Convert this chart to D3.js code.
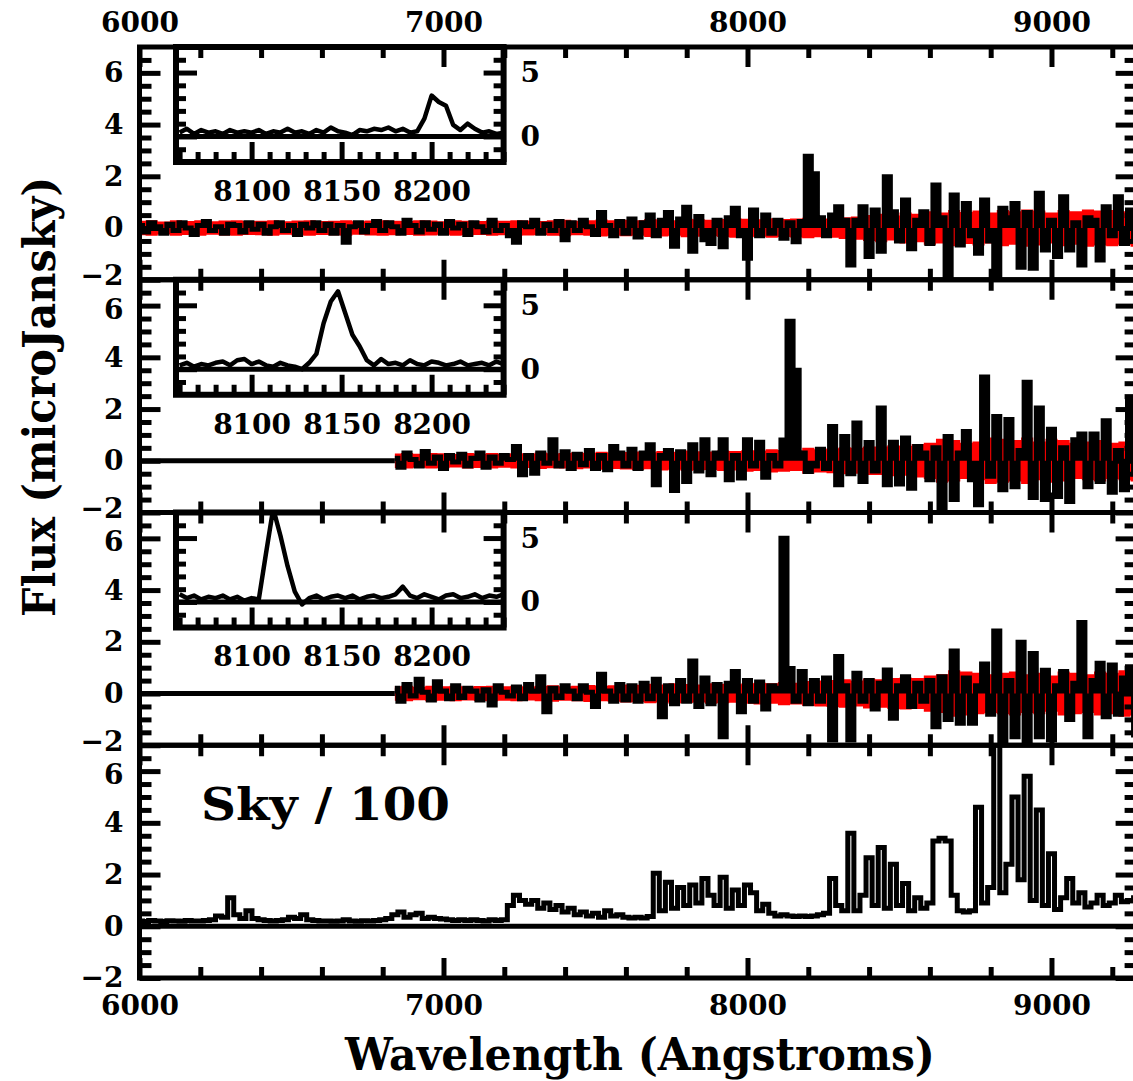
<!DOCTYPE html>
<html><head><meta charset="utf-8">
<script src="https://cdn.jsdelivr.net/npm/d3@7"></script>
<style>
body{margin:0;background:#fff}
svg{display:block}
</style>
</head><body>
<svg id="c" width="1133" height="1081"></svg>
<script>
// ---------------- DATA ----------------
// Main spectra sampled every 20 Angstrom; error (1 sigma) every 40 Angstrom.
const fluxStep = 20, errStep = 40, insetStep = 4;

// Panel 1 object, starts at 6000 A
const fluxA = [
 0.1,-0.15,0.2,0.05,-0.2,0.15,-0.1,0.2,0.0,-0.25,
 0.1,0.25,-0.1,0.05,-0.2,0.15,0.1,-0.15,0.2,-0.05,
 0.15,-0.2,0.05,0.2,-0.1,0.1,-0.25,0.15,0.0,0.2,
 -0.1,0.15,-0.2,0.1,-0.55,0.05,0.2,-0.15,0.1,0.25,
 -0.1,0.2,0.05,-0.2,0.3,0.1,-0.15,0.2,-0.05,0.15,
 -0.2,0.25,0.0,0.15,-0.25,0.2,0.05,-0.15,0.3,-0.1,
 0.1,-0.3,-0.55,0.2,0.05,0.3,-0.2,0.15,-0.1,0.25,
 -0.45,0.2,-0.1,0.3,0.05,-0.25,0.6,0.1,-0.3,0.25,
 -0.2,0.35,-0.35,0.2,0.5,-0.3,0.3,0.6,-0.7,0.35,
 0.8,-0.9,0.45,-0.45,-0.6,0.3,-0.72,0.4,0.76,-0.3,
 -1.17,0.7,-0.3,0.5,-0.2,0.3,-0.4,0.2,-0.53,0.25,
 2.78,2.1,0.4,-0.3,0.5,0.82,0.3,-1.43,0.3,0.82,
 -1.1,0.7,-0.9,1.98,0.63,-0.5,1.08,-0.8,0.3,0.63,
 -0.6,1.66,0.4,-1.95,1.28,-0.66,0.95,-0.3,-0.98,1.08,
 -0.5,-1.95,0.76,0.4,0.95,-1.52,0.6,-1.56,1.34,-0.85,
 0.3,-1.1,1.21,-0.85,0.2,-1.43,0.4,0.3,-1.24,0.82,
 -0.3,1.21,-0.6,0.7,-0.33
];
const errA = [
 0.28,0.3,0.25,0.3,0.27,0.3,0.26,0.29,0.3,0.27,
 0.28,0.3,0.26,0.29,0.3,0.27,0.28,0.3,0.26,0.29,
 0.3,0.28,0.27,0.3,0.29,0.26,0.3,0.28,0.27,0.3,
 0.28,0.3,0.29,0.27,0.3,0.32,0.28,0.3,0.33,0.3,
 0.32,0.3,0.35,0.33,0.3,0.36,0.34,0.32,0.35,0.38,
 0.36,0.34,0.38,0.35,0.37,0.4,0.36,0.38,0.42,0.45,
 0.5,0.55,0.48,0.6,0.55,0.65,0.6,0.7,0.62,0.68,
 0.6,0.7,0.65,0.72,0.68,0.6,0.7,0.65,0.72,0.68,
 0.7,0.65,0.72
];

// Panel 2 object, starts at 6840 A
const fluxB = [
 0.1,-0.25,0.3,0.05,-0.2,0.36,-0.1,0.15,-0.3,0.2,
 -0.05,0.25,-0.2,0.1,0.3,-0.25,0.15,-0.1,0.2,0.05,
 0.55,-0.54,0.2,-0.48,0.3,-0.1,0.81,-0.2,0.35,-0.3,
 0.25,-0.15,0.4,-0.3,0.2,-0.35,0.55,0.3,-0.2,0.45,
 -0.3,0.3,0.62,-0.93,0.2,0.4,-1.15,0.35,-0.8,0.62,
 -0.4,0.81,-0.54,0.3,0.81,-0.73,0.2,-0.67,0.81,-0.2,
 0.72,-0.64,0.2,-0.2,0.8,5.4,3.5,0.3,-0.41,-0.2,
 0.45,-0.3,1.33,-0.93,0.94,-0.5,1.46,-0.8,0.71,-0.4,
 2.04,-0.93,0.72,-0.9,0.88,-1.06,0.55,0.3,-0.73,0.5,
 -1.9,0.94,-1.5,0.3,1.13,-0.73,-1.7,3.24,-0.6,1.71,
 -1.12,1.6,-1.0,0.4,3.04,-1.42,2.04,-1.5,1.22,-1.38,
 0.5,-1.57,0.81,1.04,-1.0,1.04,-0.8,1.55,-1.22,0.4,
 -1.12,2.36,-0.5
];
const errB = [
 0.28,0.3,0.27,0.3,0.29,0.26,0.3,0.28,0.3,0.27,
 0.3,0.28,0.32,0.29,0.3,0.33,0.3,0.35,0.32,0.34,
 0.36,0.33,0.38,0.35,0.4,0.37,0.36,0.4,0.38,0.42,
 0.4,0.45,0.42,0.4,0.5,0.45,0.48,0.52,0.5,0.55,
 0.55,0.6,0.58,0.65,0.7,0.85,0.8,0.7,0.75,0.9,
 0.85,0.8,0.9,0.75,0.85,0.8,0.7,0.75,0.8,0.7,
 0.75,0.8
];

// Panel 3 object, starts at 6840 A
const fluxC = [
 0.2,-0.3,0.35,-0.1,0.55,0.05,-0.25,0.46,0.1,-0.2,
 0.3,-0.15,0.2,0.1,-0.25,0.15,-0.44,0.3,0.05,-0.1,
 0.25,-0.2,0.35,0.1,0.65,-0.7,0.2,-0.15,0.3,0.1,
 -0.2,0.3,0.05,-0.5,0.75,0.1,-0.3,0.35,-0.25,0.3,
 -0.3,0.4,-0.2,0.55,-0.9,0.3,-0.4,0.5,-0.3,1.26,
 -0.5,0.6,-0.4,0.35,-1.67,0.4,0.85,-0.7,0.5,-0.3,
 0.45,-0.6,0.3,0.2,6.0,0.97,-0.3,0.85,-0.4,0.5,
 -0.3,0.6,-1.8,1.43,0.3,-1.8,0.78,-0.3,0.5,-0.6,
 0.4,0.91,-0.96,0.3,0.65,-0.5,0.4,-0.3,0.5,-1.28,
 0.65,-1.0,1.64,-1.15,0.6,-1.15,0.3,1.14,-0.8,2.42,
 -1.86,0.5,-1.67,1.98,-1.86,1.55,-1.67,0.9,-1.8,0.3,
 0.85,-1.0,0.4,2.75,-1.67,0.5,1.17,-0.9,1.1,-0.8,
 0.6,1.04,-1.6
];
const errC = [
 0.28,0.3,0.26,0.3,0.28,0.3,0.27,0.29,0.3,0.28,
 0.3,0.27,0.3,0.32,0.28,0.3,0.33,0.3,0.32,0.35,
 0.34,0.38,0.35,0.4,0.37,0.35,0.4,0.38,0.36,0.4,
 0.42,0.4,0.45,0.42,0.48,0.5,0.52,0.55,0.5,0.58,
 0.55,0.6,0.62,0.6,0.7,0.75,0.9,0.85,0.8,0.75,
 0.8,0.85,0.75,0.8,0.7,0.85,0.8,0.75,0.85,0.8,
 0.9,0.85
];

// Panel 4 sky spectrum / 100, starts at 6000 A
const skyFlux = [
 0.2,0.18,0.22,0.2,0.18,0.21,0.2,0.19,0.22,0.2,
 0.2,0.22,0.25,0.4,0.35,1.1,0.45,0.3,0.6,0.3,
 0.25,0.22,0.2,0.22,0.25,0.35,0.3,0.45,0.25,0.22,
 0.2,0.2,0.19,0.2,0.25,0.2,0.19,0.21,0.2,0.22,
 0.25,0.3,0.45,0.55,0.35,0.45,0.5,0.3,0.35,0.3,
 0.28,0.25,0.22,0.25,0.22,0.25,0.22,0.2,0.25,0.22,
 0.25,0.8,1.2,1.0,0.85,1.0,0.7,0.9,0.65,0.8,
 0.55,0.7,0.45,0.55,0.4,0.5,0.35,0.6,0.4,0.45,
 0.35,0.32,0.35,0.32,0.38,2.05,0.6,1.7,0.7,1.5,
 0.8,1.6,0.9,1.85,1.2,0.8,1.9,0.7,1.4,0.8,
 1.6,1.3,0.6,0.85,0.5,0.4,0.45,0.4,0.38,0.4,
 0.38,0.4,0.45,0.5,1.85,0.8,0.6,3.6,0.6,1.2,
 2.65,0.8,3.05,0.7,2.4,0.8,1.65,0.6,1.1,0.7,
 0.9,3.3,3.4,3.3,1.2,0.6,0.55,0.6,4.6,0.9,
 1.5,7.5,1.3,2.4,5.0,1.8,5.8,1.0,4.5,0.8,
 2.8,0.65,1.1,1.85,0.9,1.3,0.75,0.9,1.2,0.8,
 0.9,1.2,0.95,1.0,1.1
];

// Insets (zoom on the line), sampled every 4 A from 8060 A
const insetA = [
 0.3,0.6,0.2,0.5,0.3,0.4,0.2,0.5,0.3,0.4,
 0.3,0.5,0.2,0.4,0.3,0.6,0.3,0.4,0.2,0.5,
 0.3,0.7,0.4,0.3,0.1,0.5,0.4,0.6,0.5,0.7,
 0.4,0.6,0.3,0.4,1.4,3.2,2.7,2.4,0.9,0.5,
 1.0,0.6,0.3,0.4,0.2,0.3
];
const insetB = [
 0.3,0.5,0.2,0.4,0.3,0.5,0.6,0.3,0.7,0.8,
 0.4,0.6,0.3,0.2,0.5,0.3,0.2,0.0,0.5,1.2,
 3.6,5.3,6.1,4.4,2.7,1.8,0.7,0.3,0.8,0.4,
 0.5,0.3,0.7,0.4,0.3,0.6,0.5,0.3,0.4,0.6,
 0.3,0.4,0.5,0.3,0.6,0.4
];
const insetC = [
 0.6,0.3,0.5,0.2,0.4,0.3,0.5,0.2,0.4,0.1,
 0.3,0.2,3.8,7.3,5.2,2.8,0.8,-0.2,0.3,0.5,
 0.2,0.4,0.5,0.3,0.5,0.2,0.4,0.5,0.3,0.4,
 0.6,1.2,0.5,0.3,0.6,0.4,0.2,0.5,0.6,0.3,
 0.4,0.6,0.3,0.5,0.4,0.6
];

// Axis ticks and labels
const xDomain = [6000, 9280];
const xMajorTicks = [6000, 7000, 8000, 9000];
const yDomain = [-2, 7];
const yMajorTicks = [-2, 0, 2, 4, 6];
const insetXDomain = [8058, 8240];
const insetXMajor = [8100, 8150, 8200];
const insetYMajor = [0, 5];
const xTitle = "Wavelength (Angstroms)";
const yTitle = "Flux (microJansky)";
const skyLabel = "Sky / 100";

// ---------------- DRAW ----------------
const FONT = "DejaVu Serif";
const svg = d3.select("#c");
const L = 139.5, R = 1136.6, T0 = 47, PH = 232.75, IW0 = 176, IW1 = 503.6, IH = 115;
const x = d3.scaleLinear().domain(xDomain).range([L, R]);
const xMinor = d3.range(6200, 9281, 200).filter(v => v % 1000 !== 0);
const yMinor = d3.range(-1.5, 7, 0.5).filter(v => v % 2 !== 0);

const series = (vals, start, step) => vals.map((v, i) => ({w: start + i * step, v}));

const panels = [
  {flux: series(fluxA, 6000, fluxStep), err: series(errA, 6000, errStep), inset: series(insetA, 8060, insetStep)},
  {flux: series(fluxB, 6840, fluxStep), err: series(errB, 6840, errStep), inset: series(insetB, 8060, insetStep), zeroSeg: true},
  {flux: series(fluxC, 6840, fluxStep), err: series(errC, 6840, errStep), inset: series(insetC, 8060, insetStep), zeroSeg: true},
  {flux: series(skyFlux, 6000, fluxStep), zeroFull: true, label: skyLabel}
];

const defs = svg.append("defs");

function styleAxis(g, sw, fs) {
  g.select(".domain").remove();
  g.attr("font-family", FONT).attr("font-weight", "bold").attr("font-size", fs || 28);
  g.selectAll(".tick line").attr("stroke", "#000").attr("stroke-width", sw).attr("stroke-linecap", "butt");
  g.selectAll(".tick text").attr("fill", "#000");
  return g;
}

const content = svg.append("g");
const insetLayer = svg.append("g");
const axesLayer = svg.append("g");

panels.forEach((p, i) => {
  const top = T0 + i * PH, bot = top + PH;
  const y = d3.scaleLinear().domain(yDomain).range([bot, top]);
  const cid = "clip" + i;
  defs.append("clipPath").attr("id", cid).append("rect")
    .attr("x", L).attr("y", top).attr("width", R - L).attr("height", PH);
  const g = content.append("g").attr("clip-path", `url(#${cid})`);

  if (p.err) {
    const area = d3.area().curve(d3.curveStep)
      .x(d => x(d.w)).y0(d => y(-d.v)).y1(d => y(d.v));
    g.append("path").datum(p.err).attr("d", area).attr("fill", "#ff0000");
  }
  if (p.zeroSeg) {
    g.append("line").attr("x1", x(6000)).attr("x2", x(p.flux[0].w))
      .attr("y1", y(0)).attr("y2", y(0)).attr("stroke", "#000").attr("stroke-width", 5);
  }
  if (p.zeroFull) {
    g.append("line").attr("x1", x(xDomain[0])).attr("x2", x(xDomain[1]))
      .attr("y1", y(0)).attr("y2", y(0)).attr("stroke", "#000").attr("stroke-width", 5);
  }
  if (!p.zeroFull) {
    // densely sampled object spectrum: excursions read as solid strokes
    const fillArea = d3.area().curve(d3.curveStep)
      .x(d => x(d.w)).y0(y(0)).y1(d => y(d.v));
    g.append("path").datum(p.flux).attr("d", fillArea).attr("fill", "#000");
  }
  const line = d3.line().curve(d3.curveStep).x(d => x(d.w)).y(d => y(d.v));
  g.append("path").datum(p.flux).attr("d", line).attr("fill", "none")
    .attr("stroke", "#000").attr("stroke-width", 5).attr("stroke-linejoin", "miter");

  if (p.label) {
    content.append("text").attr("x", 201).attr("y", 820)
      .attr("font-family", FONT).attr("font-weight", "bold").attr("font-size", 44)
      .attr("textLength", 249).attr("lengthAdjust", "spacingAndGlyphs")
      .text(p.label);
  }

  // ----- inset -----
  if (p.inset) {
    const xi = d3.scaleLinear().domain(insetXDomain).range([IW0, IW1]);
    const yi = d3.scaleLinear().domain(yDomain).range([top + IH, top]);
    const ig = insetLayer.append("g");
    ig.append("rect").attr("x", IW0).attr("y", top).attr("width", IW1 - IW0).attr("height", IH)
      .attr("fill", "#fff");
    const icid = "iclip" + i;
    defs.append("clipPath").attr("id", icid).append("rect")
      .attr("x", IW0).attr("y", top).attr("width", IW1 - IW0).attr("height", IH);
    const ic = ig.append("g").attr("clip-path", `url(#${icid})`);
    ic.append("line").attr("x1", IW0).attr("x2", IW1).attr("y1", yi(0)).attr("y2", yi(0))
      .attr("stroke", "#000").attr("stroke-width", 5);
    ic.append("path").datum(p.inset)
      .attr("d", d3.line().x(d => xi(d.w)).y(d => yi(d.v)))
      .attr("fill", "none").attr("stroke", "#000").attr("stroke-width", 4.5).attr("stroke-linejoin", "round");
    ig.append("rect").attr("x", IW0).attr("y", top).attr("width", IW1 - IW0).attr("height", IH)
      .attr("fill", "none").attr("stroke", "#000").attr("stroke-width", 6);

    const ixMinor = d3.range(8060, 8241, 10).filter(v => v % 50 !== 0);
    const iyMinor = d3.range(-1, 7, 1).filter(v => v % 5 !== 0);
    styleAxis(ig.append("g").attr("transform", `translate(0,${top + IH})`)
      .call(d3.axisBottom(xi).tickValues(ixMinor).tickSize(-10).tickFormat("")), 5);
    styleAxis(ig.append("g").attr("transform", `translate(0,${top + IH})`)
      .call(d3.axisBottom(xi).tickValues(insetXMajor).tickSize(-20).tickPadding(19).tickFormat(d3.format("d"))), 5);
    styleAxis(ig.append("g").attr("transform", `translate(${IW0},0)`)
      .call(d3.axisLeft(yi).tickValues(iyMinor).tickSize(-10).tickFormat("")), 5);
    styleAxis(ig.append("g").attr("transform", `translate(${IW0},0)`)
      .call(d3.axisLeft(yi).tickValues(insetYMajor).tickSize(-21).tickFormat("")), 5);
    styleAxis(ig.append("g").attr("transform", `translate(${IW1},0)`)
      .call(d3.axisRight(yi).tickValues(iyMinor).tickSize(-10).tickFormat("")), 5);
    styleAxis(ig.append("g").attr("transform", `translate(${IW1},0)`)
      .call(d3.axisRight(yi).tickValues(insetYMajor).tickSize(-20).tickPadding(17).tickFormat(d3.format("d"))), 5);
  }

  // ----- main axes (inward ticks) -----
  const ag = axesLayer.append("g");
  styleAxis(ag.append("g").attr("transform", `translate(${L},0)`)
    .call(d3.axisLeft(y).tickValues(yMinor).tickSize(-12).tickFormat("")), 5);
  const yl = styleAxis(ag.append("g").attr("transform", `translate(${L},0)`)
    .call(d3.axisLeft(y).tickValues(yMajorTicks).tickSize(-21).tickPadding(16).tickFormat(d3.format("d"))), 5);
  // keep stacked labels at the shared panel edges from colliding
  yl.selectAll(".tick text").attr("dy", d => {
    if (d === -2 && i < 3) return "0.18em";
    if (d === 6 && i > 0) return "0.45em";
    return "0.32em";
  });
  styleAxis(ag.append("g").attr("transform", `translate(${R},0)`)
    .call(d3.axisRight(y).tickValues(yMinor).tickSize(-12).tickFormat("")), 5);
  styleAxis(ag.append("g").attr("transform", `translate(${R},0)`)
    .call(d3.axisRight(y).tickValues(yMajorTicks).tickSize(-21).tickFormat("")), 5);

  styleAxis(ag.append("g").attr("transform", `translate(0,${top})`)
    .call(d3.axisTop(x).tickValues(xMinor).tickSize(-11).tickFormat("")), 5);
  styleAxis(ag.append("g").attr("transform", `translate(0,${top})`)
    .call(d3.axisTop(x).tickValues(xMajorTicks).tickSize(-20).tickPadding(15)
      .tickFormat(i === 0 ? d3.format("d") : "")), 5);
  styleAxis(ag.append("g").attr("transform", `translate(0,${bot})`)
    .call(d3.axisBottom(x).tickValues(xMinor).tickSize(-11).tickFormat("")), 5);
  styleAxis(ag.append("g").attr("transform", `translate(0,${bot})`)
    .call(d3.axisBottom(x).tickValues(xMajorTicks).tickSize(-20).tickPadding(17)
      .tickFormat(i === 3 ? d3.format("d") : "")), 5);

  ag.append("rect").attr("x", L).attr("y", top).attr("width", R - L).attr("height", PH)
    .attr("fill", "none").attr("stroke", "#000").attr("stroke-width", 5);
});

// Axis titles
svg.append("text").attr("x", 640).attr("y", 1070).attr("text-anchor", "middle")
  .attr("font-family", FONT).attr("font-weight", "bold").attr("font-size", 44)
  .attr("textLength", 590).attr("lengthAdjust", "spacingAndGlyphs").text(xTitle);
svg.append("text").attr("transform", "translate(55,397) rotate(-90)").attr("text-anchor", "middle")
  .attr("font-family", FONT).attr("font-weight", "bold").attr("font-size", 44)
  .attr("textLength", 440).attr("lengthAdjust", "spacingAndGlyphs").text(yTitle);
</script>
</body></html>
